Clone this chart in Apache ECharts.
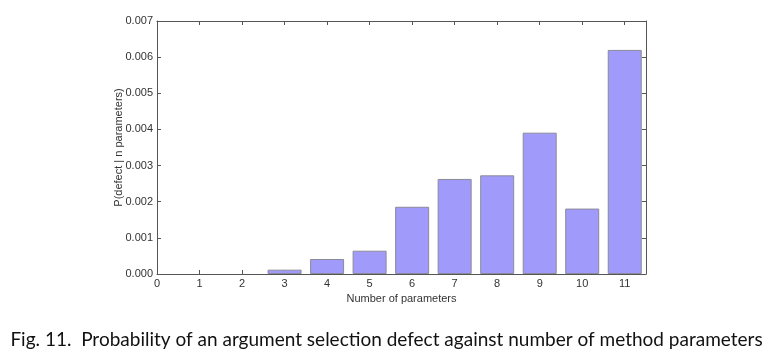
<!DOCTYPE html>
<html><head><meta charset="utf-8">
<script src="https://cdn.jsdelivr.net/npm/echarts@6/dist/echarts.min.js"></script>
<style>html,body{margin:0;padding:0;background:#fff}#c{width:773px;height:364px}</style>
</head><body><div id="c"></div>
<script>
var categories = [1, 2, 3, 4, 5, 6, 7, 8, 9, 10, 11];
var values = [0, 0, 0.00012, 0.000415, 0.000645, 0.00186, 0.00263, 0.00273, 0.00391, 0.00181, 0.0062];
var yTicks = [0, 0.001, 0.002, 0.003, 0.004, 0.005, 0.006, 0.007];
var xTicks = [0, 1, 2, 3, 4, 5, 6, 7, 8, 9, 10, 11];
var caption = 'Fig. 11.  Probability of an argument selection defect against number of method parameters';

var chart = echarts.init(document.getElementById('c'), null, {renderer: 'canvas'});
var axisCol = '#555';
var lblCol = '#333';
var data = categories.map(function (c, i) {
  var d = {value: [c, values[i]]};
  if (values[i] === 0) d.itemStyle = {borderWidth: 0};
  return d;
});
chart.setOption({
  animation: false,
  backgroundColor: '#fff',
  grid: {left: 157, top: 21, right: 127, bottom: 90, containLabel: false},
  xAxis: [{
    type: 'value', min: 0, max: 11.5, interval: 1, position: 'bottom',
    name: 'Number of parameters', nameLocation: 'middle', nameGap: 19, nameMoveOverlap: false,
    nameTextStyle: {fontFamily: 'Liberation Sans', fontSize: 11, color: lblCol},
    axisLine: {show: true, onZero: false, lineStyle: {color: axisCol, width: 1}},
    axisTick: {show: true, inside: true, length: 4, lineStyle: {color: axisCol}},
    axisLabel: {show: true, margin: 4, fontFamily: 'Liberation Sans', fontSize: 11, color: lblCol,
      formatter: function (v) { return xTicks.indexOf(v) >= 0 ? String(v) : ''; }},
    splitLine: {show: false}
  }, {
    type: 'value', min: 0, max: 11.5, interval: 1, position: 'top',
    axisLine: {show: true, onZero: false, lineStyle: {color: axisCol, width: 1}},
    axisTick: {show: true, inside: true, length: 4, lineStyle: {color: axisCol}},
    axisLabel: {show: false}, splitLine: {show: false}
  }],
  yAxis: [{
    type: 'value', min: 0, max: 0.007, interval: 0.001, position: 'left',
    name: 'P(defect | n parameters)', nameLocation: 'middle', nameGap: 33, nameRotate: 90,
    nameMoveOverlap: false,
    nameTextStyle: {fontFamily: 'Liberation Sans', fontSize: 11, color: lblCol},
    axisLine: {show: true, onZero: false, lineStyle: {color: axisCol, width: 1}},
    axisTick: {show: true, inside: true, length: 4, lineStyle: {color: axisCol}},
    axisLabel: {show: true, margin: 4, fontFamily: 'Liberation Sans', fontSize: 11, color: lblCol,
      formatter: function (v) { return v.toFixed(3); }},
    splitLine: {show: false}
  }, {
    type: 'value', min: 0, max: 0.007, interval: 0.001, position: 'right',
    axisLine: {show: true, onZero: false, lineStyle: {color: axisCol, width: 1}},
    axisTick: {show: true, inside: true, length: 4, lineStyle: {color: axisCol}},
    axisLabel: {show: false}, splitLine: {show: false}
  }],
  series: [{
    type: 'bar', xAxisIndex: 0, yAxisIndex: 0, data: data, barWidth: 34,
    itemStyle: {color: '#a09bfa', borderColor: '#8a8a9a', borderWidth: 1}
  }],
  graphic: [{
    type: 'text', left: 'center', top: 330,
    style: {text: caption, fontFamily: 'Lato', fontSize: 19, fill: '#111'}
  }]
});
</script></body></html>
